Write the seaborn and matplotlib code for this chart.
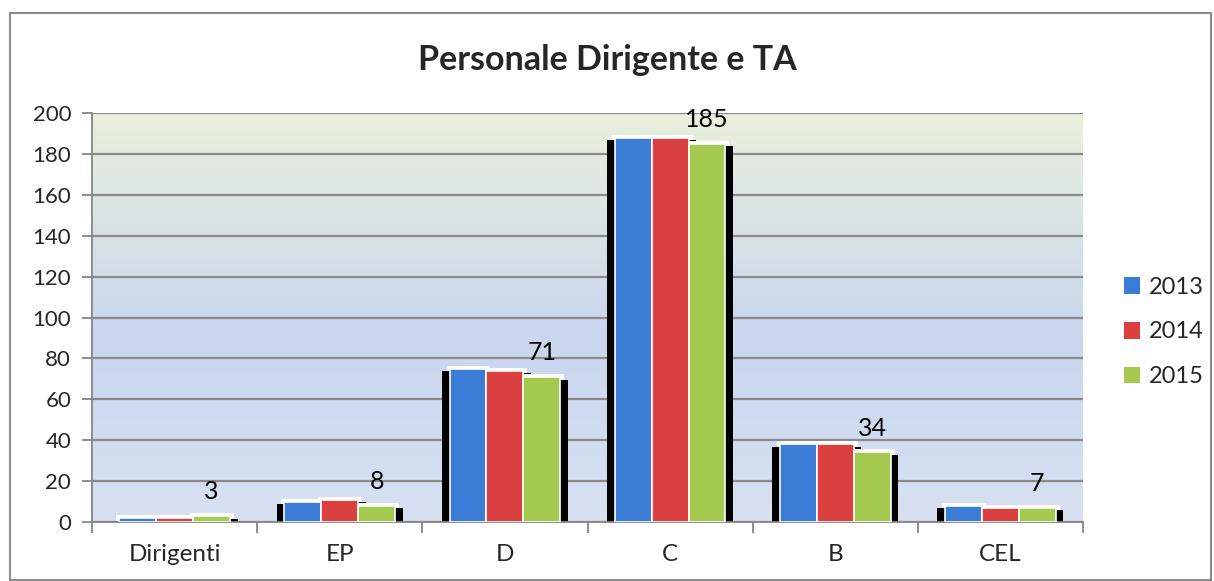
import numpy as np
import pandas as pd
import matplotlib
matplotlib.use("Agg")
import matplotlib.pyplot as plt
import matplotlib.patheffects as pe
from matplotlib.patches import Patch, Rectangle
from matplotlib.colors import LinearSegmentedColormap
import seaborn as sns

categories = ["Dirigenti", "EP", "D", "C", "B", "CEL"]
years = ["2013", "2014", "2015"]
v2013 = [2, 10, 75, 188, 38, 8]
v2014 = [2, 11, 74, 188, 38, 7]
v2015 = [3, 8, 71, 185, 34, 7]
yticks = list(range(0, 201, 20))
title = "Personale Dirigente e TA"
colors = ["#3b7dd6", "#d9403f", "#a4c94f"]

df = pd.DataFrame({
    "cat": categories * 3,
    "year": [y for y in years for _ in categories],
    "value": v2013 + v2014 + v2015,
})

sns.set_theme(style="white")
plt.rcParams["font.family"] = ["Lato", "DejaVu Sans"]

W, H = 1214, 581
fig = plt.figure(figsize=(W / 100, H / 100), dpi=100)
ax = fig.add_axes([92 / W, 1 - 522 / H, (1083 - 92) / W, (522 - 113) / H])

# background gradient
cmap = LinearSegmentedColormap.from_list(
    "bg", [(0.0, "#d7e1f1"), (0.45, "#c9d6ee"), (1.0, "#e9f0dc")])
grad = np.linspace(0, 1, 256).reshape(-1, 1)
ax.imshow(grad, aspect="auto", cmap=cmap, origin="lower",
          extent=[-0.5, 5.5, 0, 200], zorder=0)

# shadow layer
sns.barplot(data=df, x="cat", y="value", hue="year", order=categories,
            hue_order=years, palette=["black"] * 3, width=0.67, saturation=1,
            legend=False, ax=ax, zorder=2, linewidth=0)
n_shadow = len(ax.patches)
for p in ax.patches[:n_shadow]:
    p.set_path_effects([
        pe.Stroke(linewidth=5, foreground="white"),
        pe.SimplePatchShadow(offset=(-5.5, -2), shadow_rgbFace="black", alpha=1),
        pe.SimplePatchShadow(offset=(5.5, -2), shadow_rgbFace="black", alpha=1),
        pe.Normal(),
    ])
n_cont = len(ax.containers)

# colored bars
sns.barplot(data=df, x="cat", y="value", hue="year", order=categories,
            hue_order=years, palette=colors, width=0.67, saturation=1,
            legend=False, ax=ax, zorder=3, edgecolor="white", linewidth=1.2)

green = ax.containers[n_cont + 2]
ax.bar_label(green, labels=[str(v) for v in v2015], padding=9,
             fontsize=18, color="black", zorder=5)

ax.set_xlim(-0.5, 5.5)
ax.set_ylim(0, 200)
ax.set_yticks(yticks)
ax.set_yticklabels([str(t) for t in yticks], fontsize=16)
ax.set_xticks(range(len(categories)))
ax.set_xticklabels(categories, fontsize=17.5)
ax.set_xlabel("")
ax.set_ylabel("")
ax.set_xticks(np.arange(-0.5, 6, 1), minor=True)
ax.tick_params(axis="x", which="major", length=0, pad=16)
ax.tick_params(axis="x", which="minor", length=8, color="#868686", width=1.3,
               direction="out", bottom=True)
ax.tick_params(axis="y", length=7, color="#868686", width=1.3, direction="out",
               left=True, pad=8)
ax.grid(axis="y", color="#8a8a8a", linewidth=1.6)
ax.grid(axis="x", visible=False)
ax.set_axisbelow(True)
for s in ["top", "right"]:
    ax.spines[s].set_visible(False)
for s in ["left", "bottom"]:
    ax.spines[s].set_color("#868686")
    ax.spines[s].set_linewidth(1.3)
ax.set_facecolor("none")

fig.text(0.5, 1 - 60 / H, title, ha="center", va="center",
         fontsize=24.5, fontweight="bold")

handles = [Patch(facecolor=c, edgecolor="none") for c in colors]
fig.legend(handles, years, loc="center left",
           bbox_to_anchor=(1112 / W, 1 - 332 / H), frameon=False,
           fontsize=17, handlelength=0.7, handleheight=0.7,
           handletextpad=0.35, labelspacing=1.0, borderpad=0)

fig.patches.append(Rectangle((10 / W, 1 / H), (1211 - 10) / W, (580 - 13) / H,
                             transform=fig.transFigure, fill=False,
                             edgecolor="#8c8c8c", linewidth=1.5))

fig.savefig("out.png", dpi=100, facecolor="white")
